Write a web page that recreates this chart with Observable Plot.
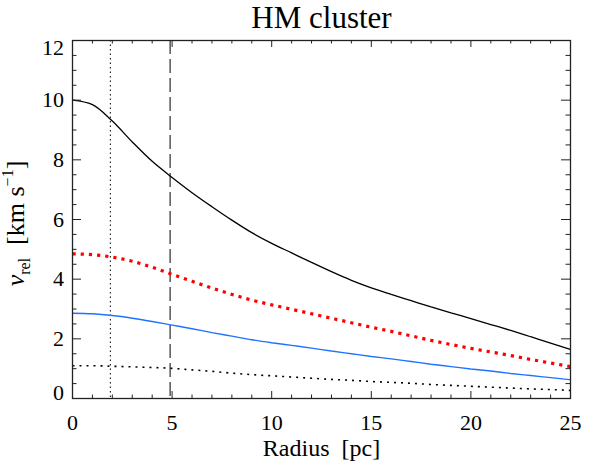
<!DOCTYPE html>
<html><head><meta charset="utf-8">
<script src="https://cdn.jsdelivr.net/npm/d3@7"></script>
<script src="https://cdn.jsdelivr.net/npm/@observablehq/plot@0.6"></script>
<style>html,body{margin:0;padding:0;background:#fff}</style>
</head><body><div id="chart"></div>
<script>
// ---- data ----
const radius     = [0,1,2,3,4,5,6,7,8,9,10,11,12,13,14,15,16,17,18,19,20,21,22,23,24,25];
const vBlack     = [10.0,9.85,9.3,8.6,7.95,7.41,6.9,6.43,5.98,5.56,5.2,4.88,4.56,4.25,3.96,3.71,3.49,3.28,3.07,2.87,2.68,2.48,2.28,2.07,1.86,1.64];
const vRedDotted = [4.85,4.82,4.74,4.6,4.4,4.16,3.93,3.7,3.49,3.3,3.14,2.99,2.84,2.69,2.54,2.39,2.25,2.1,1.95,1.81,1.68,1.56,1.44,1.31,1.19,1.07];
const vBlue      = [2.86,2.84,2.78,2.69,2.58,2.46,2.34,2.21,2.09,1.97,1.87,1.78,1.69,1.59,1.5,1.41,1.33,1.24,1.15,1.07,0.99,0.92,0.84,0.77,0.7,0.63];
const vBlackDot  = [1.1,1.1,1.08,1.06,1.04,1.01,0.96,0.91,0.85,0.8,0.76,0.72,0.68,0.64,0.61,0.57,0.54,0.51,0.47,0.44,0.41,0.38,0.35,0.32,0.3,0.27];
const dottedMarker = [1.9];
const dashedMarker = [4.9];
const xMajorTicks = [0,5,10,15,20,25];
const xMinorTicks = [1,2,3,4,6,7,8,9,11,12,13,14,16,17,18,19,21,22,23,24];
const yMajorTicks = [0,2,4,6,8,10,12];
const yMinorTicks = [0.5,1,1.5,2.5,3,3.5,4.5,5,5.5,6.5,7,7.5,8.5,9,9.5,10.5,11,11.5];
const titleText = "HM cluster";
const xTitle = "Radius\u00a0\u00a0[pc]";
const yTitlePlaceholder = "YTITLE";

const rows = (vals) => radius.map((r, i) => ({r, v: vals[i]}));

const W = 590, H = 471, mL = 72, mR = 20, mT = 40, mB = 73;
const innerW = W - mL - mR, innerH = H - mT - mB;
const font = "'Liberation Serif', 'Times New Roman', serif";
const axisColor = "#222";
const txt = {fill: "#000", lineAnchor: "middle"};
const ln = {x: "r", y: "v", curve: "monotone-x", strokeLinecap: "butt", strokeLinejoin: "miter"};

const svg = Plot.plot({
  width: W, height: H,
  marginLeft: mL, marginRight: mR, marginTop: mT, marginBottom: mB,
  style: {fontFamily: font, background: "#fff", color: "#000", overflow: "visible"},
  x: {domain: [0, 25], axis: null},
  y: {domain: [0, 12], axis: null},
  marks: [
    // reference lines
    Plot.ruleX(dottedMarker, {x: d => d, stroke: "#000", strokeWidth: 1, strokeDasharray: "1.5,3", strokeLinecap: "butt"}),
    Plot.ruleX(dashedMarker, {x: d => d, stroke: "#000", strokeWidth: 1, strokeDasharray: "14,5", strokeLinecap: "butt"}),
    // curves
    Plot.line(rows(vBlackDot), {...ln, stroke: "#000", strokeWidth: 1.6, strokeDasharray: "2,5"}),
    Plot.line(rows(vBlue), {...ln, stroke: "#1e73ff", strokeWidth: 1.4}),
    Plot.line(rows(vRedDotted), {...ln, stroke: "#ff0000", strokeWidth: 3.2, strokeDasharray: "3.2,5"}),
    Plot.line(rows(vBlack), {...ln, stroke: "#000", strokeWidth: 1.3}),
    // frame
    Plot.frame({stroke: axisColor, strokeWidth: 1.3}),
    // inward ticks: bottom & top
    Plot.tickX(xMajorTicks, {x: d => d, insetTop: innerH - 7, stroke: axisColor}),
    Plot.tickX(xMajorTicks, {x: d => d, insetBottom: innerH - 7, stroke: axisColor}),
    Plot.tickX(xMinorTicks, {x: d => d, insetTop: innerH - 3.5, stroke: axisColor}),
    Plot.tickX(xMinorTicks, {x: d => d, insetBottom: innerH - 3.5, stroke: axisColor}),
    // inward ticks: left & right
    Plot.tickY(yMajorTicks, {y: d => d, insetRight: innerW - 9, stroke: axisColor}),
    Plot.tickY(yMajorTicks, {y: d => d, insetLeft: innerW - 9, stroke: axisColor}),
    Plot.tickY(yMinorTicks, {y: d => d, insetRight: innerW - 4.5, stroke: axisColor}),
    Plot.tickY(yMinorTicks, {y: d => d, insetLeft: innerW - 4.5, stroke: axisColor}),
    // tick labels
    Plot.text(xMajorTicks, {...txt, x: d => d, frameAnchor: "bottom", dy: 24.5, fontSize: 22}),
    Plot.text(yMajorTicks.filter(v => v > 0 && v < 12), {...txt, y: d => d, frameAnchor: "left", dx: -8.5, textAnchor: "end", fontSize: 22}),
    Plot.text(yMajorTicks.filter(v => v === 0), {...txt, y: d => d, frameAnchor: "left", dx: -8.5, dy: -6, textAnchor: "end", fontSize: 22}),
    Plot.text(yMajorTicks.filter(v => v === 12), {...txt, y: d => d, frameAnchor: "left", dx: -8.5, dy: 7, textAnchor: "end", fontSize: 22}),
    // titles
    Plot.text([titleText], {...txt, frameAnchor: "top", dy: -22, fontSize: 31}),
    Plot.text([xTitle], {...txt, frameAnchor: "bottom", dy: 50, fontSize: 24}),
    Plot.text([yTitlePlaceholder], {...txt, frameAnchor: "left", rotate: -90, dx: -57, dy: 4, fontSize: 26})
  ]
});

document.getElementById("chart").appendChild(svg);

// rich y-axis title: v_rel [km s^-1]
d3.select(svg).selectAll("text").filter(function() { return this.textContent === yTitlePlaceholder; })
  .each(function() {
    const t = d3.select(this);
    t.text(null);
    t.append("tspan").attr("font-style", "italic").text("v");
    t.append("tspan").attr("font-size", 16).attr("dy", 6).text("rel");
    t.append("tspan").attr("dy", -6).text("\u00a0\u00a0[km s");
    t.append("tspan").attr("font-size", 16).attr("dy", -11).text("\u22121");
    t.append("tspan").attr("dy", 11).text("]");
    const len = this.getComputedTextLength();
    t.attr("text-anchor", "start").attr("x", -len / 2);
  });
</script>
</body></html>
